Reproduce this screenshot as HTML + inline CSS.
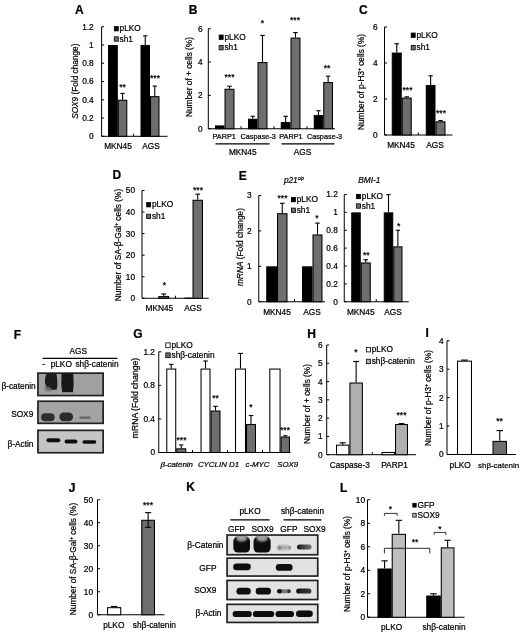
<!DOCTYPE html>
<html><head><meta charset="utf-8"><style>
html,body{margin:0;padding:0;background:#fff;}
svg{display:block;}
text{font-family:"Liberation Sans",sans-serif;fill:#000;stroke:#000;stroke-width:0.22px;}
svg{filter:blur(0.3px);}
</style></head><body>
<svg width="520" height="632" viewBox="0 0 520 632">
<defs><filter id="b1" x="-20%" y="-50%" width="140%" height="200%"><feGaussianBlur stdDeviation="0.6"/></filter><filter id="b2" x="-50%" y="-50%" width="200%" height="200%"><feGaussianBlur stdDeviation="1.2"/></filter><linearGradient id="gk" x1="0" x2="1" y1="0" y2="0"><stop offset="0" stop-color="#111"/><stop offset="0.25" stop-color="#333"/><stop offset="1" stop-color="#777"/></linearGradient><linearGradient id="gk2" x1="0" x2="1" y1="0" y2="0"><stop offset="0" stop-color="#0a0a0a"/><stop offset="0.3" stop-color="#222"/><stop offset="1" stop-color="#3a3a3a"/></linearGradient><clipPath id="ck1"><rect x="227.9" y="535.9" width="88.2" height="17.4"/></clipPath></defs>
<rect x="0" y="0" width="520" height="632" fill="#fff"/>
<text x="75.00" y="14.09" font-size="12" font-weight="bold">A</text>
<line x1="101.60" y1="26.70" x2="101.60" y2="136.30" stroke="#000" stroke-width="1"/>
<line x1="101.60" y1="136.30" x2="167.50" y2="136.30" stroke="#000" stroke-width="1"/>
<line x1="101.60" y1="136.30" x2="104.10" y2="136.30" stroke="#000" stroke-width="1"/>
<text x="93.70" y="139.29" font-size="8.3" text-anchor="end">0</text>
<line x1="101.60" y1="118.03" x2="104.10" y2="118.03" stroke="#000" stroke-width="1"/>
<text x="93.70" y="121.02" font-size="8.3" text-anchor="end">0.2</text>
<line x1="101.60" y1="99.77" x2="104.10" y2="99.77" stroke="#000" stroke-width="1"/>
<text x="93.70" y="102.75" font-size="8.3" text-anchor="end">0.4</text>
<line x1="101.60" y1="81.50" x2="104.10" y2="81.50" stroke="#000" stroke-width="1"/>
<text x="93.70" y="84.49" font-size="8.3" text-anchor="end">0.6</text>
<line x1="101.60" y1="63.23" x2="104.10" y2="63.23" stroke="#000" stroke-width="1"/>
<text x="93.70" y="66.22" font-size="8.3" text-anchor="end">0.8</text>
<line x1="101.60" y1="44.97" x2="104.10" y2="44.97" stroke="#000" stroke-width="1"/>
<text x="93.70" y="47.95" font-size="8.3" text-anchor="end">1</text>
<line x1="101.60" y1="26.70" x2="104.10" y2="26.70" stroke="#000" stroke-width="1"/>
<text x="93.70" y="29.69" font-size="8.3" text-anchor="end">1.2</text>
<line x1="133.50" y1="136.30" x2="133.50" y2="133.80" stroke="#000" stroke-width="1"/>
<rect x="108.53" y="45.49" width="8.75" height="90.81" fill="#000" stroke="#000" stroke-width="1.05"/>
<rect x="118.33" y="100.29" width="8.45" height="36.01" fill="#6e6e6e" stroke="#000" stroke-width="1.05"/>
<line x1="122.55" y1="99.77" x2="122.55" y2="93.37" stroke="#000" stroke-width="1.1"/>
<line x1="120.41" y1="93.37" x2="124.69" y2="93.37" stroke="#000" stroke-width="1.1"/>
<rect x="141.03" y="45.49" width="8.45" height="90.81" fill="#000" stroke="#000" stroke-width="1.05"/>
<line x1="145.25" y1="44.97" x2="145.25" y2="35.83" stroke="#000" stroke-width="1.1"/>
<line x1="143.11" y1="35.83" x2="147.39" y2="35.83" stroke="#000" stroke-width="1.1"/>
<rect x="150.53" y="96.64" width="8.45" height="39.66" fill="#6e6e6e" stroke="#000" stroke-width="1.05"/>
<line x1="154.75" y1="96.11" x2="154.75" y2="86.07" stroke="#000" stroke-width="1.1"/>
<line x1="152.61" y1="86.07" x2="156.89" y2="86.07" stroke="#000" stroke-width="1.1"/>
<text x="122.50" y="89.96" font-size="8.6" text-anchor="middle">**</text>
<text x="155.00" y="80.96" font-size="8.6" text-anchor="middle">***</text>
<rect x="114.30" y="26.50" width="4.00" height="4.40" fill="#000" stroke="#000" stroke-width="0.8"/>
<text x="119.60" y="31.49" font-size="8.3">pLKO</text>
<rect x="114.30" y="36.80" width="4.00" height="4.40" fill="#6e6e6e" stroke="#000" stroke-width="0.8"/>
<text x="119.60" y="41.79" font-size="8.3">sh1</text>
<text x="118.00" y="148.99" font-size="8.3" text-anchor="middle">MKN45</text>
<text x="151.00" y="148.99" font-size="8.3" text-anchor="middle">AGS</text>
<text transform="translate(78.17,81.20) rotate(-90)" font-size="8.25" text-anchor="middle"><tspan font-style="italic">SOX9</tspan> (Fold change)</text>
<text x="188.75" y="14.09" font-size="12" font-weight="bold">B</text>
<line x1="208.30" y1="28.75" x2="208.30" y2="128.75" stroke="#000" stroke-width="1"/>
<line x1="208.30" y1="128.75" x2="335.00" y2="128.75" stroke="#000" stroke-width="1"/>
<line x1="208.30" y1="128.75" x2="210.80" y2="128.75" stroke="#000" stroke-width="1"/>
<text x="202.50" y="131.74" font-size="8.3" text-anchor="end">0</text>
<line x1="208.30" y1="95.42" x2="210.80" y2="95.42" stroke="#000" stroke-width="1"/>
<text x="202.50" y="98.40" font-size="8.3" text-anchor="end">2</text>
<line x1="208.30" y1="62.08" x2="210.80" y2="62.08" stroke="#000" stroke-width="1"/>
<text x="202.50" y="65.07" font-size="8.3" text-anchor="end">4</text>
<line x1="208.30" y1="28.75" x2="210.80" y2="28.75" stroke="#000" stroke-width="1"/>
<text x="202.50" y="31.74" font-size="8.3" text-anchor="end">6</text>
<line x1="241.00" y1="128.75" x2="241.00" y2="126.25" stroke="#000" stroke-width="1"/>
<line x1="274.00" y1="128.75" x2="274.00" y2="126.25" stroke="#000" stroke-width="1"/>
<line x1="307.00" y1="128.75" x2="307.00" y2="126.25" stroke="#000" stroke-width="1"/>
<rect x="215.53" y="125.94" width="8.45" height="2.81" fill="#000" stroke="#000" stroke-width="1.05"/>
<rect x="225.03" y="89.28" width="8.95" height="39.48" fill="#6e6e6e" stroke="#000" stroke-width="1.05"/>
<line x1="229.50" y1="88.75" x2="229.50" y2="86.25" stroke="#000" stroke-width="1.1"/>
<line x1="227.25" y1="86.25" x2="231.75" y2="86.25" stroke="#000" stroke-width="1.1"/>
<rect x="248.53" y="119.28" width="8.45" height="9.47" fill="#000" stroke="#000" stroke-width="1.05"/>
<line x1="252.75" y1="118.75" x2="252.75" y2="116.25" stroke="#000" stroke-width="1.1"/>
<line x1="250.61" y1="116.25" x2="254.89" y2="116.25" stroke="#000" stroke-width="1.1"/>
<rect x="258.02" y="62.61" width="8.95" height="66.14" fill="#6e6e6e" stroke="#000" stroke-width="1.05"/>
<line x1="262.50" y1="62.08" x2="262.50" y2="35.42" stroke="#000" stroke-width="1.1"/>
<line x1="260.25" y1="35.42" x2="264.75" y2="35.42" stroke="#000" stroke-width="1.1"/>
<rect x="281.27" y="122.61" width="8.70" height="6.14" fill="#000" stroke="#000" stroke-width="1.05"/>
<line x1="285.62" y1="122.08" x2="285.62" y2="116.25" stroke="#000" stroke-width="1.1"/>
<line x1="283.43" y1="116.25" x2="287.82" y2="116.25" stroke="#000" stroke-width="1.1"/>
<rect x="291.02" y="38.11" width="8.95" height="90.64" fill="#6e6e6e" stroke="#000" stroke-width="1.05"/>
<line x1="295.50" y1="37.58" x2="295.50" y2="32.58" stroke="#000" stroke-width="1.1"/>
<line x1="293.25" y1="32.58" x2="297.75" y2="32.58" stroke="#000" stroke-width="1.1"/>
<rect x="314.27" y="115.61" width="8.45" height="13.14" fill="#000" stroke="#000" stroke-width="1.05"/>
<line x1="318.50" y1="115.08" x2="318.50" y2="110.75" stroke="#000" stroke-width="1.1"/>
<line x1="316.36" y1="110.75" x2="320.64" y2="110.75" stroke="#000" stroke-width="1.1"/>
<rect x="323.77" y="82.61" width="8.70" height="46.14" fill="#6e6e6e" stroke="#000" stroke-width="1.05"/>
<line x1="328.12" y1="82.08" x2="328.12" y2="76.25" stroke="#000" stroke-width="1.1"/>
<line x1="325.93" y1="76.25" x2="330.32" y2="76.25" stroke="#000" stroke-width="1.1"/>
<text x="229.50" y="79.96" font-size="8.6" text-anchor="middle">***</text>
<text x="262.50" y="26.46" font-size="8.6" text-anchor="middle">*</text>
<text x="295.00" y="22.71" font-size="8.6" text-anchor="middle">***</text>
<text x="327.00" y="70.71" font-size="8.6" text-anchor="middle">**</text>
<rect x="219.15" y="35.00" width="4.00" height="4.40" fill="#000" stroke="#000" stroke-width="0.8"/>
<text x="224.45" y="39.99" font-size="8.3">pLKO</text>
<rect x="219.15" y="45.50" width="4.00" height="4.40" fill="#6e6e6e" stroke="#000" stroke-width="0.8"/>
<text x="224.45" y="50.49" font-size="8.3">sh1</text>
<text x="224.15" y="139.23" font-size="7.3" text-anchor="middle">PARP1</text>
<text x="258.20" y="139.23" font-size="7.3" text-anchor="middle">Caspase-3</text>
<text x="290.95" y="139.23" font-size="7.3" text-anchor="middle">PARP1</text>
<text x="324.55" y="139.23" font-size="7.3" text-anchor="middle">Caspase-3</text>
<line x1="215.50" y1="143.90" x2="269.70" y2="143.90" stroke="#000" stroke-width="1.1"/>
<line x1="281.50" y1="143.90" x2="334.40" y2="143.90" stroke="#000" stroke-width="1.1"/>
<text x="242.75" y="155.29" font-size="8.3" text-anchor="middle">MKN45</text>
<text x="302.50" y="155.29" font-size="8.3" text-anchor="middle">AGS</text>
<text transform="translate(191.74,77.00) rotate(-90)" font-size="8.3" text-anchor="middle">Number of + cells (%)</text>
<text x="359.00" y="14.09" font-size="12" font-weight="bold">C</text>
<line x1="384.50" y1="27.00" x2="384.50" y2="135.00" stroke="#000" stroke-width="1"/>
<line x1="384.50" y1="135.00" x2="452.50" y2="135.00" stroke="#000" stroke-width="1"/>
<line x1="384.50" y1="135.00" x2="387.00" y2="135.00" stroke="#000" stroke-width="1"/>
<text x="377.50" y="137.99" font-size="8.3" text-anchor="end">0</text>
<line x1="384.50" y1="99.00" x2="387.00" y2="99.00" stroke="#000" stroke-width="1"/>
<text x="377.50" y="101.99" font-size="8.3" text-anchor="end">2</text>
<line x1="384.50" y1="63.00" x2="387.00" y2="63.00" stroke="#000" stroke-width="1"/>
<text x="377.50" y="65.99" font-size="8.3" text-anchor="end">4</text>
<line x1="384.50" y1="27.00" x2="387.00" y2="27.00" stroke="#000" stroke-width="1"/>
<text x="377.50" y="29.99" font-size="8.3" text-anchor="end">6</text>
<line x1="418.25" y1="135.00" x2="418.25" y2="132.50" stroke="#000" stroke-width="1"/>
<rect x="392.27" y="53.09" width="8.95" height="81.91" fill="#000" stroke="#000" stroke-width="1.05"/>
<line x1="396.75" y1="52.56" x2="396.75" y2="43.74" stroke="#000" stroke-width="1.1"/>
<line x1="394.50" y1="43.74" x2="399.00" y2="43.74" stroke="#000" stroke-width="1.1"/>
<rect x="402.27" y="98.09" width="8.95" height="36.91" fill="#6e6e6e" stroke="#000" stroke-width="1.05"/>
<line x1="406.75" y1="97.56" x2="406.75" y2="96.84" stroke="#000" stroke-width="1.1"/>
<line x1="404.50" y1="96.84" x2="409.00" y2="96.84" stroke="#000" stroke-width="1.1"/>
<rect x="426.27" y="85.49" width="8.70" height="49.51" fill="#000" stroke="#000" stroke-width="1.05"/>
<line x1="430.62" y1="84.96" x2="430.62" y2="75.78" stroke="#000" stroke-width="1.1"/>
<line x1="428.43" y1="75.78" x2="432.82" y2="75.78" stroke="#000" stroke-width="1.1"/>
<rect x="436.02" y="121.84" width="8.95" height="13.16" fill="#6e6e6e" stroke="#000" stroke-width="1.05"/>
<line x1="440.50" y1="121.32" x2="440.50" y2="120.60" stroke="#000" stroke-width="1.1"/>
<line x1="438.25" y1="120.60" x2="442.75" y2="120.60" stroke="#000" stroke-width="1.1"/>
<text x="407.50" y="93.46" font-size="8.6" text-anchor="middle">***</text>
<text x="441.00" y="115.71" font-size="8.6" text-anchor="middle">***</text>
<rect x="411.20" y="33.00" width="4.00" height="4.40" fill="#000" stroke="#000" stroke-width="0.8"/>
<text x="416.50" y="37.99" font-size="8.3">pLKO</text>
<rect x="411.20" y="45.50" width="4.00" height="4.40" fill="#6e6e6e" stroke="#000" stroke-width="0.8"/>
<text x="416.50" y="50.49" font-size="8.3">sh1</text>
<text x="401.00" y="148.49" font-size="8.3" text-anchor="middle">MKN45</text>
<text x="435.00" y="148.49" font-size="8.3" text-anchor="middle">AGS</text>
<text transform="translate(363.99,82.00) rotate(-90)" font-size="8.3" text-anchor="middle">Number of p-H3<tspan dy="-2.5" font-size="5">+</tspan><tspan dy="2.5"> cells (%)</tspan></text>
<text x="112.50" y="178.59" font-size="12" font-weight="bold">D</text>
<line x1="142.00" y1="190.50" x2="142.00" y2="298.25" stroke="#000" stroke-width="1"/>
<line x1="142.00" y1="298.25" x2="208.75" y2="298.25" stroke="#000" stroke-width="1"/>
<line x1="142.00" y1="298.25" x2="144.50" y2="298.25" stroke="#000" stroke-width="1"/>
<text x="135.00" y="301.24" font-size="8.3" text-anchor="end">0</text>
<line x1="142.00" y1="276.70" x2="144.50" y2="276.70" stroke="#000" stroke-width="1"/>
<text x="135.00" y="279.69" font-size="8.3" text-anchor="end">10</text>
<line x1="142.00" y1="255.15" x2="144.50" y2="255.15" stroke="#000" stroke-width="1"/>
<text x="135.00" y="258.14" font-size="8.3" text-anchor="end">20</text>
<line x1="142.00" y1="233.60" x2="144.50" y2="233.60" stroke="#000" stroke-width="1"/>
<text x="135.00" y="236.59" font-size="8.3" text-anchor="end">30</text>
<line x1="142.00" y1="212.05" x2="144.50" y2="212.05" stroke="#000" stroke-width="1"/>
<text x="135.00" y="215.04" font-size="8.3" text-anchor="end">40</text>
<line x1="142.00" y1="190.50" x2="144.50" y2="190.50" stroke="#000" stroke-width="1"/>
<text x="135.00" y="193.49" font-size="8.3" text-anchor="end">50</text>
<line x1="175.50" y1="298.25" x2="175.50" y2="295.75" stroke="#000" stroke-width="1"/>
<rect x="158.78" y="296.62" width="9.95" height="1.63" fill="#6e6e6e" stroke="#000" stroke-width="1.05"/>
<line x1="163.75" y1="296.10" x2="163.75" y2="293.94" stroke="#000" stroke-width="1.1"/>
<line x1="161.28" y1="293.94" x2="166.22" y2="293.94" stroke="#000" stroke-width="1.1"/>
<rect x="185.03" y="298.13" width="6.95" height="0.12" fill="#000" stroke="#000" stroke-width="1.05"/>
<rect x="193.03" y="200.29" width="9.45" height="97.96" fill="#6e6e6e" stroke="#000" stroke-width="1.05"/>
<line x1="197.75" y1="199.77" x2="197.75" y2="194.16" stroke="#000" stroke-width="1.1"/>
<line x1="195.39" y1="194.16" x2="200.11" y2="194.16" stroke="#000" stroke-width="1.1"/>
<text x="164.50" y="287.96" font-size="8.6" text-anchor="middle">*</text>
<text x="198.00" y="192.71" font-size="8.6" text-anchor="middle">***</text>
<rect x="146.65" y="202.50" width="4.00" height="4.40" fill="#000" stroke="#000" stroke-width="0.8"/>
<text x="151.95" y="207.49" font-size="8.3">pLKO</text>
<rect x="146.65" y="214.20" width="4.00" height="4.40" fill="#6e6e6e" stroke="#000" stroke-width="0.8"/>
<text x="151.95" y="219.19" font-size="8.3">sh1</text>
<text x="159.40" y="310.59" font-size="8.3" text-anchor="middle">MKN45</text>
<text x="193.00" y="310.59" font-size="8.3" text-anchor="middle">AGS</text>
<text transform="translate(120.99,245.00) rotate(-90)" font-size="8.3" text-anchor="middle">Number of SA-β-Gal<tspan dy="-2.5" font-size="5">+</tspan><tspan dy="2.5"> cells (%)</tspan></text>
<text x="238.75" y="180.09" font-size="12" font-weight="bold">E</text>
<text x="294.00" y="182.50" font-size="8.3" text-anchor="middle" font-style="italic">p21<tspan font-size="5" dy="-2.5">cip</tspan></text>
<line x1="258.75" y1="195.50" x2="258.75" y2="301.75" stroke="#000" stroke-width="1"/>
<line x1="258.75" y1="301.75" x2="325.00" y2="301.75" stroke="#000" stroke-width="1"/>
<line x1="258.75" y1="301.75" x2="261.25" y2="301.75" stroke="#000" stroke-width="1"/>
<text x="251.60" y="304.74" font-size="8.3" text-anchor="end">0</text>
<line x1="258.75" y1="266.33" x2="261.25" y2="266.33" stroke="#000" stroke-width="1"/>
<text x="251.60" y="269.32" font-size="8.3" text-anchor="end">1</text>
<line x1="258.75" y1="230.92" x2="261.25" y2="230.92" stroke="#000" stroke-width="1"/>
<text x="251.60" y="233.90" font-size="8.3" text-anchor="end">2</text>
<line x1="258.75" y1="195.50" x2="261.25" y2="195.50" stroke="#000" stroke-width="1"/>
<text x="251.60" y="198.49" font-size="8.3" text-anchor="end">3</text>
<line x1="294.50" y1="301.75" x2="294.50" y2="299.25" stroke="#000" stroke-width="1"/>
<rect x="266.77" y="266.86" width="9.70" height="34.89" fill="#000" stroke="#000" stroke-width="1.05"/>
<rect x="277.52" y="213.73" width="9.45" height="88.02" fill="#6e6e6e" stroke="#000" stroke-width="1.05"/>
<line x1="282.25" y1="213.21" x2="282.25" y2="203.29" stroke="#000" stroke-width="1.1"/>
<line x1="279.89" y1="203.29" x2="284.61" y2="203.29" stroke="#000" stroke-width="1.1"/>
<rect x="302.52" y="266.86" width="9.45" height="34.89" fill="#000" stroke="#000" stroke-width="1.05"/>
<rect x="313.02" y="234.98" width="8.95" height="66.77" fill="#6e6e6e" stroke="#000" stroke-width="1.05"/>
<line x1="317.50" y1="234.46" x2="317.50" y2="223.12" stroke="#000" stroke-width="1.1"/>
<line x1="315.25" y1="223.12" x2="319.75" y2="223.12" stroke="#000" stroke-width="1.1"/>
<text x="282.50" y="201.46" font-size="8.6" text-anchor="middle">***</text>
<text x="317.00" y="220.96" font-size="8.6" text-anchor="middle">*</text>
<rect x="291.40" y="197.40" width="4.00" height="4.40" fill="#000" stroke="#000" stroke-width="0.8"/>
<text x="296.70" y="202.39" font-size="8.3">pLKO</text>
<rect x="291.40" y="208.10" width="4.00" height="4.40" fill="#6e6e6e" stroke="#000" stroke-width="0.8"/>
<text x="296.70" y="213.09" font-size="8.3">sh1</text>
<text x="277.00" y="314.99" font-size="8.3" text-anchor="middle">MKN45</text>
<text x="312.00" y="314.99" font-size="8.3" text-anchor="middle">AGS</text>
<text transform="translate(242.99,247.00) rotate(-90)" font-size="8.3" text-anchor="middle"><tspan font-style="italic">mRNA</tspan> (Fold change)</text>
<text x="369.40" y="182.50" font-size="8.3" text-anchor="middle" font-style="italic">BMI-1</text>
<line x1="344.25" y1="194.50" x2="344.25" y2="301.75" stroke="#000" stroke-width="1"/>
<line x1="344.25" y1="301.75" x2="408.75" y2="301.75" stroke="#000" stroke-width="1"/>
<line x1="344.25" y1="301.75" x2="346.75" y2="301.75" stroke="#000" stroke-width="1"/>
<text x="337.80" y="304.74" font-size="8.3" text-anchor="end">0</text>
<line x1="344.25" y1="283.88" x2="346.75" y2="283.88" stroke="#000" stroke-width="1"/>
<text x="337.80" y="286.86" font-size="8.3" text-anchor="end">0.2</text>
<line x1="344.25" y1="266.00" x2="346.75" y2="266.00" stroke="#000" stroke-width="1"/>
<text x="337.80" y="268.99" font-size="8.3" text-anchor="end">0.4</text>
<line x1="344.25" y1="248.12" x2="346.75" y2="248.12" stroke="#000" stroke-width="1"/>
<text x="337.80" y="251.11" font-size="8.3" text-anchor="end">0.6</text>
<line x1="344.25" y1="230.25" x2="346.75" y2="230.25" stroke="#000" stroke-width="1"/>
<text x="337.80" y="233.24" font-size="8.3" text-anchor="end">0.8</text>
<line x1="344.25" y1="212.38" x2="346.75" y2="212.38" stroke="#000" stroke-width="1"/>
<text x="337.80" y="215.36" font-size="8.3" text-anchor="end">1</text>
<line x1="344.25" y1="194.50" x2="346.75" y2="194.50" stroke="#000" stroke-width="1"/>
<text x="337.80" y="197.49" font-size="8.3" text-anchor="end">1.2</text>
<line x1="376.25" y1="301.75" x2="376.25" y2="299.25" stroke="#000" stroke-width="1"/>
<rect x="351.77" y="212.90" width="8.45" height="88.85" fill="#000" stroke="#000" stroke-width="1.05"/>
<rect x="361.27" y="262.95" width="8.95" height="38.80" fill="#6e6e6e" stroke="#000" stroke-width="1.05"/>
<line x1="365.75" y1="262.43" x2="365.75" y2="259.74" stroke="#000" stroke-width="1.1"/>
<line x1="363.50" y1="259.74" x2="368.00" y2="259.74" stroke="#000" stroke-width="1.1"/>
<rect x="384.27" y="212.90" width="8.45" height="88.85" fill="#000" stroke="#000" stroke-width="1.05"/>
<line x1="388.50" y1="212.38" x2="388.50" y2="194.50" stroke="#000" stroke-width="1.1"/>
<line x1="386.36" y1="194.50" x2="390.64" y2="194.50" stroke="#000" stroke-width="1.1"/>
<rect x="393.77" y="246.86" width="8.20" height="54.89" fill="#6e6e6e" stroke="#000" stroke-width="1.05"/>
<line x1="397.88" y1="246.34" x2="397.88" y2="230.25" stroke="#000" stroke-width="1.1"/>
<line x1="395.77" y1="230.25" x2="399.98" y2="230.25" stroke="#000" stroke-width="1.1"/>
<text x="366.25" y="257.71" font-size="8.6" text-anchor="middle">**</text>
<text x="398.75" y="229.06" font-size="8.6" text-anchor="middle">*</text>
<rect x="356.50" y="194.30" width="4.00" height="4.40" fill="#000" stroke="#000" stroke-width="0.8"/>
<text x="361.80" y="199.29" font-size="8.3">pLKO</text>
<rect x="356.50" y="203.80" width="4.00" height="4.40" fill="#6e6e6e" stroke="#000" stroke-width="0.8"/>
<text x="361.80" y="208.79" font-size="8.3">sh1</text>
<text x="360.75" y="314.99" font-size="8.3" text-anchor="middle">MKN45</text>
<text x="393.00" y="314.99" font-size="8.3" text-anchor="middle">AGS</text>
<text x="13.75" y="338.59" font-size="12" font-weight="bold">F</text>
<text x="78.30" y="354.19" font-size="8.3" text-anchor="middle">AGS</text>
<line x1="42.50" y1="358.30" x2="117.50" y2="358.30" stroke="#000" stroke-width="1.3"/>
<text x="43.75" y="367.49" font-size="8.3" text-anchor="middle">-</text>
<text x="61.25" y="367.49" font-size="8.3" text-anchor="middle">pLKO</text>
<text x="97.00" y="367.49" font-size="8.3" text-anchor="middle">shβ-catenin</text>
<rect x="37.95" y="373.15" width="65.20" height="22.40" fill="#a1a1a1" stroke="#222" stroke-width="1.7"/>
<ellipse cx="49" cy="388" rx="4" ry="2.6" fill="#5a5a5a" filter="url(#b2)"/>
<polygon points="46.40,373.40 56.40,373.40 57.20,379.00 57.40,385.50 56.60,389.80 52.00,389.80 50.00,387.00 46.50,386.50 44.90,383.00 45.20,378.00" fill="#1c1c1c" filter="url(#b1)"/>
<polygon points="61.50,373.20 73.30,373.20 73.60,385.00 72.90,392.20 62.20,392.20 61.30,385.00" fill="#181818" filter="url(#b1)"/>
<rect x="37.95" y="401.25" width="65.20" height="22.10" fill="#a3a3a3" stroke="#222" stroke-width="1.7"/>
<rect x="41.10" y="413.30" width="13.50" height="8.00" rx="4.00" fill="#2e2e2e" filter="url(#b1)"/>
<rect x="59.30" y="412.60" width="13.80" height="8.70" rx="4.35" fill="#2a2a2a" filter="url(#b1)"/>
<rect x="79.20" y="416.60" width="11.70" height="2.10" rx="1.05" fill="#666" filter="url(#b1)"/>
<rect x="37.95" y="430.35" width="65.20" height="22.40" fill="#c4c4c4" stroke="#222" stroke-width="1.7"/>
<rect x="46.50" y="438.30" width="13.80" height="3.90" rx="1.95" fill="#111" filter="url(#b1)"/>
<rect x="64.60" y="439.60" width="12.80" height="3.80" rx="1.90" fill="#111" filter="url(#b1)"/>
<rect x="82.40" y="440.30" width="13.90" height="3.50" rx="1.75" fill="#111" filter="url(#b1)"/>
<text x="18.60" y="388.99" font-size="8.3" text-anchor="middle">β-catenin</text>
<text x="22.20" y="416.89" font-size="8.3" text-anchor="middle">SOX9</text>
<text x="20.50" y="446.79" font-size="8.3" text-anchor="middle">β-Actin</text>
<text x="133.25" y="337.59" font-size="12" font-weight="bold">G</text>
<line x1="158.75" y1="351.75" x2="158.75" y2="452.50" stroke="#000" stroke-width="1"/>
<line x1="158.75" y1="452.50" x2="290.50" y2="452.50" stroke="#000" stroke-width="1"/>
<line x1="158.75" y1="452.50" x2="161.25" y2="452.50" stroke="#000" stroke-width="1"/>
<text x="155.00" y="455.49" font-size="8.3" text-anchor="end">0</text>
<line x1="158.75" y1="418.92" x2="161.25" y2="418.92" stroke="#000" stroke-width="1"/>
<text x="155.00" y="421.90" font-size="8.3" text-anchor="end">0.4</text>
<line x1="158.75" y1="385.33" x2="161.25" y2="385.33" stroke="#000" stroke-width="1"/>
<text x="155.00" y="388.32" font-size="8.3" text-anchor="end">0.8</text>
<line x1="158.75" y1="351.75" x2="161.25" y2="351.75" stroke="#000" stroke-width="1"/>
<text x="155.00" y="354.74" font-size="8.3" text-anchor="end">1.2</text>
<line x1="192.50" y1="452.50" x2="192.50" y2="450.00" stroke="#000" stroke-width="1"/>
<line x1="227.50" y1="452.50" x2="227.50" y2="450.00" stroke="#000" stroke-width="1"/>
<line x1="262.50" y1="452.50" x2="262.50" y2="450.00" stroke="#000" stroke-width="1"/>
<rect x="166.78" y="369.07" width="8.95" height="83.43" fill="#fff" stroke="#000" stroke-width="1.05"/>
<line x1="171.25" y1="368.54" x2="171.25" y2="364.34" stroke="#000" stroke-width="1.1"/>
<line x1="169.00" y1="364.34" x2="173.50" y2="364.34" stroke="#000" stroke-width="1.1"/>
<rect x="176.78" y="448.83" width="8.95" height="3.67" fill="#6e6e6e" stroke="#000" stroke-width="1.05"/>
<line x1="181.25" y1="448.30" x2="181.25" y2="444.94" stroke="#000" stroke-width="1.1"/>
<line x1="179.00" y1="444.94" x2="183.50" y2="444.94" stroke="#000" stroke-width="1.1"/>
<rect x="201.03" y="369.07" width="8.95" height="83.43" fill="#fff" stroke="#000" stroke-width="1.05"/>
<line x1="205.50" y1="368.54" x2="205.50" y2="360.99" stroke="#000" stroke-width="1.1"/>
<line x1="203.25" y1="360.99" x2="207.75" y2="360.99" stroke="#000" stroke-width="1.1"/>
<rect x="211.03" y="411.05" width="8.95" height="41.45" fill="#6e6e6e" stroke="#000" stroke-width="1.05"/>
<line x1="215.50" y1="410.52" x2="215.50" y2="406.32" stroke="#000" stroke-width="1.1"/>
<line x1="213.25" y1="406.32" x2="217.75" y2="406.32" stroke="#000" stroke-width="1.1"/>
<rect x="235.53" y="369.07" width="9.95" height="83.43" fill="#fff" stroke="#000" stroke-width="1.05"/>
<line x1="240.50" y1="368.54" x2="240.50" y2="353.43" stroke="#000" stroke-width="1.1"/>
<line x1="238.03" y1="353.43" x2="242.97" y2="353.43" stroke="#000" stroke-width="1.1"/>
<rect x="246.53" y="424.48" width="8.95" height="28.02" fill="#6e6e6e" stroke="#000" stroke-width="1.05"/>
<line x1="251.00" y1="423.95" x2="251.00" y2="415.56" stroke="#000" stroke-width="1.1"/>
<line x1="248.75" y1="415.56" x2="253.25" y2="415.56" stroke="#000" stroke-width="1.1"/>
<rect x="269.82" y="369.07" width="10.25" height="83.43" fill="#fff" stroke="#000" stroke-width="1.05"/>
<rect x="281.12" y="437.07" width="8.35" height="15.43" fill="#6e6e6e" stroke="#000" stroke-width="1.05"/>
<line x1="285.30" y1="436.55" x2="285.30" y2="435.71" stroke="#000" stroke-width="1.1"/>
<line x1="283.19" y1="435.71" x2="287.42" y2="435.71" stroke="#000" stroke-width="1.1"/>
<text x="181.50" y="443.46" font-size="8.6" text-anchor="middle">***</text>
<text x="215.50" y="401.46" font-size="8.6" text-anchor="middle">**</text>
<text x="251.00" y="409.96" font-size="8.6" text-anchor="middle">*</text>
<text x="285.00" y="433.21" font-size="8.6" text-anchor="middle">***</text>
<rect x="165.80" y="342.90" width="4.40" height="4.80" fill="#fff" stroke="#000" stroke-width="0.8"/>
<text x="171.50" y="348.09" font-size="8.3">pLKO</text>
<rect x="165.80" y="352.90" width="4.40" height="4.80" fill="#6e6e6e" stroke="#000" stroke-width="0.8"/>
<text x="171.50" y="358.09" font-size="8.3">shβ-catenin</text>
<text x="176.70" y="466.54" font-size="7.9" text-anchor="middle" font-style="italic">β-catenin</text>
<text x="218.50" y="466.54" font-size="7.9" text-anchor="middle" font-style="italic">CYCLIN D1</text>
<text x="257.50" y="466.54" font-size="7.9" text-anchor="middle" font-style="italic">c-MYC</text>
<text x="287.70" y="466.54" font-size="7.9" text-anchor="middle" font-style="italic">SOX9</text>
<text transform="translate(138.10,398.00) rotate(-90)" font-size="8.6" text-anchor="middle">mRNA (Fold change)</text>
<text x="307.20" y="337.59" font-size="12" font-weight="bold">H</text>
<line x1="326.70" y1="345.00" x2="326.70" y2="454.70" stroke="#000" stroke-width="1"/>
<line x1="326.70" y1="454.70" x2="416.00" y2="454.70" stroke="#000" stroke-width="1"/>
<line x1="326.70" y1="454.70" x2="329.20" y2="454.70" stroke="#000" stroke-width="1"/>
<text x="322.50" y="457.69" font-size="8.3" text-anchor="end">0</text>
<line x1="326.70" y1="436.42" x2="329.20" y2="436.42" stroke="#000" stroke-width="1"/>
<text x="322.50" y="439.40" font-size="8.3" text-anchor="end">1</text>
<line x1="326.70" y1="418.13" x2="329.20" y2="418.13" stroke="#000" stroke-width="1"/>
<text x="322.50" y="421.12" font-size="8.3" text-anchor="end">2</text>
<line x1="326.70" y1="399.85" x2="329.20" y2="399.85" stroke="#000" stroke-width="1"/>
<text x="322.50" y="402.84" font-size="8.3" text-anchor="end">3</text>
<line x1="326.70" y1="381.57" x2="329.20" y2="381.57" stroke="#000" stroke-width="1"/>
<text x="322.50" y="384.55" font-size="8.3" text-anchor="end">4</text>
<line x1="326.70" y1="363.28" x2="329.20" y2="363.28" stroke="#000" stroke-width="1"/>
<text x="322.50" y="366.27" font-size="8.3" text-anchor="end">5</text>
<line x1="326.70" y1="345.00" x2="329.20" y2="345.00" stroke="#000" stroke-width="1"/>
<text x="322.50" y="347.99" font-size="8.3" text-anchor="end">6</text>
<line x1="372.30" y1="454.70" x2="372.30" y2="452.20" stroke="#000" stroke-width="1"/>
<rect x="336.52" y="445.17" width="12.35" height="9.53" fill="#fff" stroke="#000" stroke-width="1.05"/>
<line x1="342.70" y1="444.64" x2="342.70" y2="442.82" stroke="#000" stroke-width="1.1"/>
<line x1="339.69" y1="442.82" x2="345.71" y2="442.82" stroke="#000" stroke-width="1.1"/>
<rect x="349.92" y="383.01" width="12.45" height="71.69" fill="#b0b0b0" stroke="#000" stroke-width="1.05"/>
<line x1="356.15" y1="382.48" x2="356.15" y2="361.45" stroke="#000" stroke-width="1.1"/>
<line x1="353.11" y1="361.45" x2="359.19" y2="361.45" stroke="#000" stroke-width="1.1"/>
<rect x="382.02" y="452.48" width="12.45" height="2.22" fill="#fff" stroke="#000" stroke-width="1.05"/>
<rect x="395.52" y="424.51" width="11.95" height="30.19" fill="#b0b0b0" stroke="#000" stroke-width="1.05"/>
<line x1="401.50" y1="423.98" x2="401.50" y2="423.62" stroke="#000" stroke-width="1.1"/>
<line x1="398.57" y1="423.62" x2="404.43" y2="423.62" stroke="#000" stroke-width="1.1"/>
<text x="356.00" y="355.26" font-size="8.6" text-anchor="middle">*</text>
<text x="401.50" y="418.36" font-size="8.6" text-anchor="middle">***</text>
<rect x="366.40" y="347.50" width="4.00" height="4.40" fill="#fff" stroke="#000" stroke-width="0.8"/>
<text x="371.70" y="352.49" font-size="8.3">pLKO</text>
<rect x="366.40" y="359.25" width="4.00" height="4.40" fill="#b0b0b0" stroke="#000" stroke-width="0.8"/>
<text x="371.70" y="364.24" font-size="8.3">shβ-catenin</text>
<text x="349.80" y="467.59" font-size="8.3" text-anchor="middle">Caspase-3</text>
<text x="394.50" y="467.59" font-size="8.3" text-anchor="middle">PARP1</text>
<text transform="translate(310.49,404.00) rotate(-90)" font-size="8.3" text-anchor="middle">Number of + cells (%)</text>
<text x="425.50" y="336.59" font-size="12" font-weight="bold">I</text>
<line x1="447.00" y1="340.75" x2="447.00" y2="454.50" stroke="#000" stroke-width="1"/>
<line x1="447.00" y1="454.50" x2="516.00" y2="454.50" stroke="#000" stroke-width="1"/>
<line x1="447.00" y1="454.50" x2="449.50" y2="454.50" stroke="#000" stroke-width="1"/>
<text x="443.50" y="457.49" font-size="8.3" text-anchor="end">0</text>
<line x1="447.00" y1="426.06" x2="449.50" y2="426.06" stroke="#000" stroke-width="1"/>
<text x="443.50" y="429.05" font-size="8.3" text-anchor="end">1</text>
<line x1="447.00" y1="397.62" x2="449.50" y2="397.62" stroke="#000" stroke-width="1"/>
<text x="443.50" y="400.61" font-size="8.3" text-anchor="end">2</text>
<line x1="447.00" y1="369.19" x2="449.50" y2="369.19" stroke="#000" stroke-width="1"/>
<text x="443.50" y="372.18" font-size="8.3" text-anchor="end">3</text>
<line x1="447.00" y1="340.75" x2="449.50" y2="340.75" stroke="#000" stroke-width="1"/>
<text x="443.50" y="343.74" font-size="8.3" text-anchor="end">4</text>
<rect x="457.52" y="361.18" width="13.95" height="93.32" fill="#fff" stroke="#000" stroke-width="1.05"/>
<line x1="464.50" y1="360.66" x2="464.50" y2="360.09" stroke="#000" stroke-width="1.1"/>
<line x1="461.12" y1="360.09" x2="467.88" y2="360.09" stroke="#000" stroke-width="1.1"/>
<rect x="493.02" y="441.38" width="13.45" height="13.12" fill="#6e6e6e" stroke="#000" stroke-width="1.05"/>
<line x1="499.75" y1="440.85" x2="499.75" y2="430.61" stroke="#000" stroke-width="1.1"/>
<line x1="496.49" y1="430.61" x2="503.01" y2="430.61" stroke="#000" stroke-width="1.1"/>
<text x="499.50" y="423.96" font-size="8.6" text-anchor="middle">**</text>
<text x="460.20" y="468.19" font-size="8.3" text-anchor="middle">pLKO</text>
<text x="498.60" y="468.04" font-size="7.9" text-anchor="middle">shβ-catenin</text>
<text transform="translate(430.99,398.00) rotate(-90)" font-size="8.3" text-anchor="middle">Number of p-H3<tspan dy="-2.5" font-size="5">+</tspan><tspan dy="2.5"> cells (%)</tspan></text>
<text x="68.75" y="492.09" font-size="12" font-weight="bold">J</text>
<line x1="97.50" y1="499.75" x2="97.50" y2="614.75" stroke="#000" stroke-width="1"/>
<line x1="97.50" y1="614.75" x2="164.50" y2="614.75" stroke="#000" stroke-width="1"/>
<line x1="97.50" y1="614.75" x2="100.00" y2="614.75" stroke="#000" stroke-width="1"/>
<text x="93.00" y="617.74" font-size="8.3" text-anchor="end">0</text>
<line x1="97.50" y1="591.75" x2="100.00" y2="591.75" stroke="#000" stroke-width="1"/>
<text x="93.00" y="594.74" font-size="8.3" text-anchor="end">10</text>
<line x1="97.50" y1="568.75" x2="100.00" y2="568.75" stroke="#000" stroke-width="1"/>
<text x="93.00" y="571.74" font-size="8.3" text-anchor="end">20</text>
<line x1="97.50" y1="545.75" x2="100.00" y2="545.75" stroke="#000" stroke-width="1"/>
<text x="93.00" y="548.74" font-size="8.3" text-anchor="end">30</text>
<line x1="97.50" y1="522.75" x2="100.00" y2="522.75" stroke="#000" stroke-width="1"/>
<text x="93.00" y="525.74" font-size="8.3" text-anchor="end">40</text>
<line x1="97.50" y1="499.75" x2="100.00" y2="499.75" stroke="#000" stroke-width="1"/>
<text x="93.00" y="502.74" font-size="8.3" text-anchor="end">50</text>
<rect x="107.53" y="607.68" width="13.20" height="7.07" fill="#fff" stroke="#000" stroke-width="1.05"/>
<line x1="114.12" y1="607.16" x2="114.12" y2="606.47" stroke="#000" stroke-width="1.1"/>
<line x1="110.92" y1="606.47" x2="117.33" y2="606.47" stroke="#000" stroke-width="1.1"/>
<rect x="141.78" y="520.28" width="12.70" height="94.47" fill="#6e6e6e" stroke="#000" stroke-width="1.05"/>
<line x1="148.12" y1="519.76" x2="148.12" y2="512.63" stroke="#000" stroke-width="1.1"/>
<line x1="145.03" y1="512.63" x2="151.22" y2="512.63" stroke="#000" stroke-width="1.1"/>
<line x1="148.12" y1="519.76" x2="148.12" y2="527.35" stroke="#000" stroke-width="1.1"/>
<line x1="145.03" y1="527.35" x2="151.22" y2="527.35" stroke="#000" stroke-width="1.1"/>
<text x="148.00" y="508.46" font-size="8.6" text-anchor="middle">***</text>
<text x="113.75" y="628.24" font-size="8.3" text-anchor="middle">pLKO</text>
<text x="154.40" y="628.24" font-size="8.3" text-anchor="middle">shβ-catenin</text>
<text transform="translate(75.99,559.00) rotate(-90)" font-size="8.3" text-anchor="middle">Number of SA-β-Gal<tspan dy="-2.5" font-size="5">+</tspan><tspan dy="2.5"> cells (%)</tspan></text>
<text x="186.25" y="491.34" font-size="12" font-weight="bold">K</text>
<text x="250.00" y="514.49" font-size="8.3" text-anchor="middle">pLKO</text>
<text x="302.50" y="514.49" font-size="8.3" text-anchor="middle">shβ-catenin</text>
<line x1="230.40" y1="519.80" x2="269.60" y2="519.80" stroke="#000" stroke-width="1.3"/>
<line x1="283.50" y1="519.80" x2="321.50" y2="519.80" stroke="#000" stroke-width="1.3"/>
<text x="236.50" y="531.79" font-size="8.3" text-anchor="middle">GFP</text>
<text x="262.60" y="531.79" font-size="8.3" text-anchor="middle">SOX9</text>
<text x="288.90" y="531.79" font-size="8.3" text-anchor="middle">GFP</text>
<text x="314.60" y="531.79" font-size="8.3" text-anchor="middle">SOX9</text>
<rect x="227.05" y="535.05" width="90.70" height="19.70" fill="#e2e2e2" stroke="#222" stroke-width="1.7"/>
<rect x="233.40" y="536.60" width="16.60" height="16.00" rx="4.50" fill="#0a0a0a" filter="url(#b1)"/>
<rect x="253.60" y="536.60" width="17.00" height="16.00" rx="4.50" fill="#0a0a0a" filter="url(#b1)"/>
<g clip-path="url(#ck1)"><ellipse cx="241.7" cy="537.8" rx="5.6" ry="3.8" fill="#a0a0a0" filter="url(#b2)"/>
<ellipse cx="262.1" cy="537.8" rx="5.8" ry="3.8" fill="#a0a0a0" filter="url(#b2)"/></g>
<ellipse cx="283.5" cy="547.7" rx="7" ry="2.6" fill="#aaa" filter="url(#b2)"/>
<ellipse cx="279.5" cy="547.7" rx="1.8" ry="2.2" fill="#888" filter="url(#b1)"/>
<ellipse cx="289.5" cy="547.7" rx="1.5" ry="2" fill="#999" filter="url(#b1)"/>
<rect x="297" y="544.6" width="14.6" height="5" rx="2.5" fill="url(#gk)" filter="url(#b1)"/>
<rect x="227.05" y="558.15" width="90.70" height="17.90" fill="#e2e2e2" stroke="#222" stroke-width="1.7"/>
<rect x="233.20" y="563.60" width="17.60" height="6.60" rx="3.30" fill="#0a0a0a" filter="url(#b1)"/>
<rect x="275.80" y="564.00" width="16.80" height="6.80" rx="3.40" fill="#0a0a0a" filter="url(#b1)"/>
<rect x="227.05" y="580.45" width="90.70" height="19.10" fill="#e2e2e2" stroke="#222" stroke-width="1.7"/>
<rect x="236.40" y="587.80" width="14.40" height="6.70" rx="3.35" fill="#0f0f0f" filter="url(#b1)"/>
<rect x="255.70" y="587.80" width="15.30" height="6.70" rx="3.35" fill="#0f0f0f" filter="url(#b1)"/>
<rect x="276.80" y="589.20" width="13.50" height="4.00" rx="2.00" fill="#7a7a7a" filter="url(#b1)"/>
<ellipse cx="279.5" cy="591.2" rx="2.4" ry="2.2" fill="#111" filter="url(#b1)"/>
<ellipse cx="289" cy="591.2" rx="1.8" ry="2" fill="#333" filter="url(#b1)"/>
<rect x="296.2" y="588.4" width="15.2" height="5.2" rx="2.6" fill="url(#gk2)" filter="url(#b1)"/>
<rect x="227.05" y="604.35" width="90.70" height="18.10" fill="#e2e2e2" stroke="#222" stroke-width="1.7"/>
<rect x="232.60" y="610.90" width="19.20" height="6.20" rx="3.10" fill="#0a0a0a" filter="url(#b1)"/>
<rect x="252.80" y="610.90" width="21.50" height="6.20" rx="3.10" fill="#0a0a0a" filter="url(#b1)"/>
<rect x="275.50" y="610.90" width="18.60" height="6.20" rx="3.10" fill="#0a0a0a" filter="url(#b1)"/>
<rect x="296.00" y="610.60" width="16.80" height="6.40" rx="3.20" fill="#0a0a0a" filter="url(#b1)"/>
<text x="205.40" y="547.74" font-size="8.3" text-anchor="middle">β-Catenin</text>
<text x="207.90" y="570.74" font-size="8.3" text-anchor="middle">GFP</text>
<text x="205.40" y="593.24" font-size="8.3" text-anchor="middle">SOX9</text>
<text x="208.40" y="616.49" font-size="8.3" text-anchor="middle">β-Actin</text>
<text x="340.00" y="492.09" font-size="12" font-weight="bold">L</text>
<line x1="367.50" y1="499.75" x2="367.50" y2="617.25" stroke="#000" stroke-width="1"/>
<line x1="367.50" y1="617.25" x2="464.50" y2="617.25" stroke="#000" stroke-width="1"/>
<line x1="367.50" y1="617.25" x2="370.00" y2="617.25" stroke="#000" stroke-width="1"/>
<text x="365.00" y="620.24" font-size="8.3" text-anchor="end">0</text>
<line x1="367.50" y1="593.75" x2="370.00" y2="593.75" stroke="#000" stroke-width="1"/>
<text x="365.00" y="596.74" font-size="8.3" text-anchor="end">2</text>
<line x1="367.50" y1="570.25" x2="370.00" y2="570.25" stroke="#000" stroke-width="1"/>
<text x="365.00" y="573.24" font-size="8.3" text-anchor="end">4</text>
<line x1="367.50" y1="546.75" x2="370.00" y2="546.75" stroke="#000" stroke-width="1"/>
<text x="365.00" y="549.74" font-size="8.3" text-anchor="end">6</text>
<line x1="367.50" y1="523.25" x2="370.00" y2="523.25" stroke="#000" stroke-width="1"/>
<text x="365.00" y="526.24" font-size="8.3" text-anchor="end">8</text>
<line x1="367.50" y1="499.75" x2="370.00" y2="499.75" stroke="#000" stroke-width="1"/>
<text x="365.00" y="502.74" font-size="8.3" text-anchor="end">10</text>
<rect x="378.02" y="569.01" width="13.15" height="48.24" fill="#000" stroke="#000" stroke-width="1.05"/>
<line x1="384.60" y1="568.49" x2="384.60" y2="560.85" stroke="#000" stroke-width="1.1"/>
<line x1="381.41" y1="560.85" x2="387.80" y2="560.85" stroke="#000" stroke-width="1.1"/>
<rect x="392.22" y="534.35" width="13.25" height="82.90" fill="#bebebe" stroke="#000" stroke-width="1.05"/>
<line x1="398.85" y1="533.83" x2="398.85" y2="520.31" stroke="#000" stroke-width="1.1"/>
<line x1="395.63" y1="520.31" x2="402.07" y2="520.31" stroke="#000" stroke-width="1.1"/>
<rect x="426.77" y="596.04" width="13.45" height="21.21" fill="#000" stroke="#000" stroke-width="1.05"/>
<line x1="433.50" y1="595.51" x2="433.50" y2="593.75" stroke="#000" stroke-width="1.1"/>
<line x1="430.24" y1="593.75" x2="436.76" y2="593.75" stroke="#000" stroke-width="1.1"/>
<rect x="441.27" y="547.86" width="12.70" height="69.39" fill="#bebebe" stroke="#000" stroke-width="1.05"/>
<line x1="447.62" y1="547.34" x2="447.62" y2="540.29" stroke="#000" stroke-width="1.1"/>
<line x1="444.53" y1="540.29" x2="450.72" y2="540.29" stroke="#000" stroke-width="1.1"/>
<polyline points="384.40,515.90 384.40,513.40 397.20,513.40 397.20,515.90" fill="none" stroke="#000" stroke-width="0.8"/>
<text x="390.50" y="512.36" font-size="8.6" text-anchor="middle">*</text>
<polyline points="434.20,534.90 434.20,532.40 445.80,532.40 445.80,534.90" fill="none" stroke="#000" stroke-width="0.8"/>
<text x="440.00" y="532.36" font-size="8.6" text-anchor="middle">*</text>
<polyline points="384.40,553.50 384.40,548.30 429.80,548.30 429.80,553.50" fill="none" stroke="#000" stroke-width="0.8"/>
<text x="415.00" y="544.96" font-size="8.6" text-anchor="middle">**</text>
<rect x="412.80" y="503.30" width="3.40" height="3.80" fill="#000" stroke="#000" stroke-width="0.8"/>
<text x="417.50" y="507.99" font-size="8.3">GFP</text>
<rect x="412.80" y="513.30" width="3.40" height="3.80" fill="#bebebe" stroke="#000" stroke-width="0.8"/>
<text x="417.50" y="517.99" font-size="8.3">SOX9</text>
<text x="391.60" y="630.39" font-size="8.3" text-anchor="middle">pLKO</text>
<text x="444.00" y="630.39" font-size="8.3" text-anchor="middle">shβ-catenin</text>
<text transform="translate(349.99,564.00) rotate(-90)" font-size="8.3" text-anchor="middle">Number of p-H3<tspan dy="-2.5" font-size="5">+</tspan><tspan dy="2.5"> cells (%)</tspan></text>
</svg>
</body></html>
